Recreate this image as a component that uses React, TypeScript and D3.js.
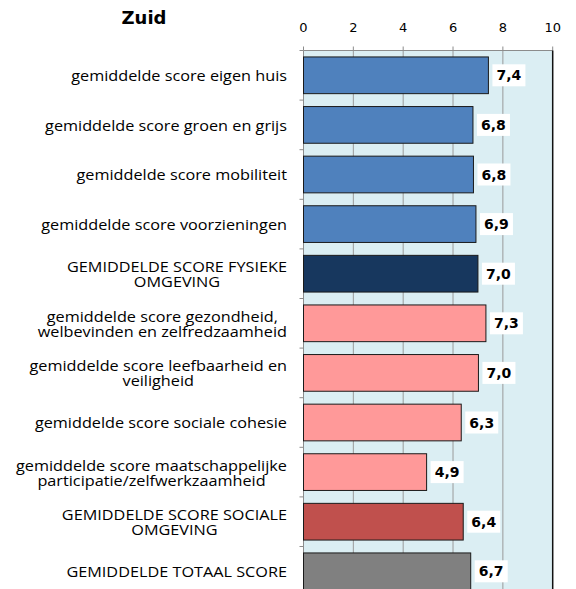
import React from "react";
import * as d3 from "d3";

const title = "Zuid";
const categories = [
  "gemiddelde score eigen huis",
  "gemiddelde score groen en grijs",
  "gemiddelde score mobiliteit",
  "gemiddelde score voorzieningen",
  "GEMIDDELDE SCORE FYSIEKE\nOMGEVING",
  "gemiddelde score gezondheid,\nwelbevinden en zelfredzaamheid",
  "gemiddelde score leefbaarheid en\nveiligheid",
  "gemiddelde score sociale cohesie",
  "gemiddelde score maatschappelijke\nparticipatie/zelfwerkzaamheid",
  "GEMIDDELDE SCORE SOCIALE\nOMGEVING",
  "GEMIDDELDE TOTAAL SCORE",
];
const values = [7.42, 6.8, 6.82, 6.92, 7.0, 7.32, 7.02, 6.33, 4.94, 6.41, 6.71];
const valueLabels = ["7,4", "6,8", "6,8", "6,9", "7,0", "7,3", "7,0", "6,3", "4,9", "6,4", "6,7"];
const barColors = [
  "#4F81BD", "#4F81BD", "#4F81BD", "#4F81BD", "#17375E",
  "#FF9999", "#FF9999", "#FF9999", "#FF9999", "#C0504D", "#808080",
];
const xTicks = [0, 2, 4, 6, 8, 10];

const catFont = "'Open Sans', Lato, sans-serif";
const numFont = "'DejaVu Sans', Verdana, sans-serif";
const SX = 1.16;

function measure(text: string): number {
  try {
    const ctx = document.createElement("canvas").getContext("2d");
    if (ctx) {
      ctx.font = `14px ${catFont}`;
      return ctx.measureText(text).width * SX;
    }
  } catch (e) {}
  return text.length * 7.9;
}

export default function App() {
  const W = 576, H = 589;
  const left = 303.5, right = 552.7, top = 50.5;
  const step = 49.6;
  const bottom = top + step * categories.length;
  const x = d3.scaleLinear().domain([0, 10]).range([left, right]);
  const y = d3.scaleBand<number>()
    .domain(d3.range(categories.length))
    .range([top, bottom])
    .paddingInner(0.26)
    .paddingOuter(0.13);
  const labelRight = 287;

  return (
    <svg width={W} height={H} style={{ position: "absolute", left: 0, top: 0, background: "#fff" }}>
      <text x={144} y={24} textAnchor="middle" fontFamily={numFont} fontWeight="bold" fontSize={18} fill="#000">{title}</text>
      <rect x={left} y={top} width={right - left} height={bottom - top} fill="#DBEEF3" />
      {xTicks.slice(1, -1).map((t) => (
        <line key={"g" + t} x1={x(t)} x2={x(t)} y1={top} y2={bottom} stroke="#9a9a9a" strokeWidth={1} />
      ))}
      <line x1={left} x2={right} y1={top} y2={top} stroke="#8c8c8c" strokeWidth={1} />
      {xTicks.map((t) => (
        <g key={"t" + t}>
          <line x1={x(t)} x2={x(t)} y1={top - 4} y2={top} stroke="#8c8c8c" strokeWidth={1} />
          <text x={x(t)} y={31.5} textAnchor="middle" fontFamily={numFont} fontSize={13} fill="#000">{t}</text>
        </g>
      ))}
      <line x1={right} x2={right} y1={top} y2={bottom} stroke="#111" strokeWidth={1.5} />
      <line x1={left} x2={left} y1={top} y2={bottom} stroke="#8c8c8c" strokeWidth={1} />
      {d3.range(categories.length + 1).map((i) => (
        <line key={"lt" + i} x1={left - 4} x2={left} y1={top + i * step} y2={top + i * step} stroke="#8c8c8c" strokeWidth={1} />
      ))}
      {values.map((v, i) => {
        const by = y(i)!;
        const bw = y.bandwidth();
        const xe = x(v);
        const lbl = valueLabels[i];
        const boxW = 33, boxH = 22;
        const bx = xe + 4;
        const cy = by + bw / 2;
        return (
          <g key={"b" + i}>
            <rect x={left} y={by} width={xe - left} height={bw} fill={barColors[i]} stroke="#1a1a1a" strokeWidth={1} />
            <rect x={bx} y={cy - boxH / 2} width={boxW} height={boxH} fill="#fff" />
            <text x={bx + boxW / 2} y={cy + 5} textAnchor="middle" fontFamily={numFont} fontWeight="bold" fontSize={14} fill="#000">{lbl}</text>
          </g>
        );
      })}
      {categories.map((c, i) => {
        const lines = c.split("\n");
        const maxW = Math.max(...lines.map(measure));
        const cx = labelRight - maxW / 2;
        const cy = y(i)! + y.bandwidth() / 2;
        const lh = 15;
        const start = cy - ((lines.length - 1) * lh) / 2 + 6;
        return (
          <g key={"c" + i} transform={`translate(${cx},0) scale(${SX},1)`}>
            <text textAnchor="middle" fontFamily={catFont} fontSize={14} fill="#000">
              {lines.map((l, j) => (
                <tspan key={j} x={0} y={start + j * lh}>{l}</tspan>
              ))}
            </text>
          </g>
        );
      })}
    </svg>
  );
}
